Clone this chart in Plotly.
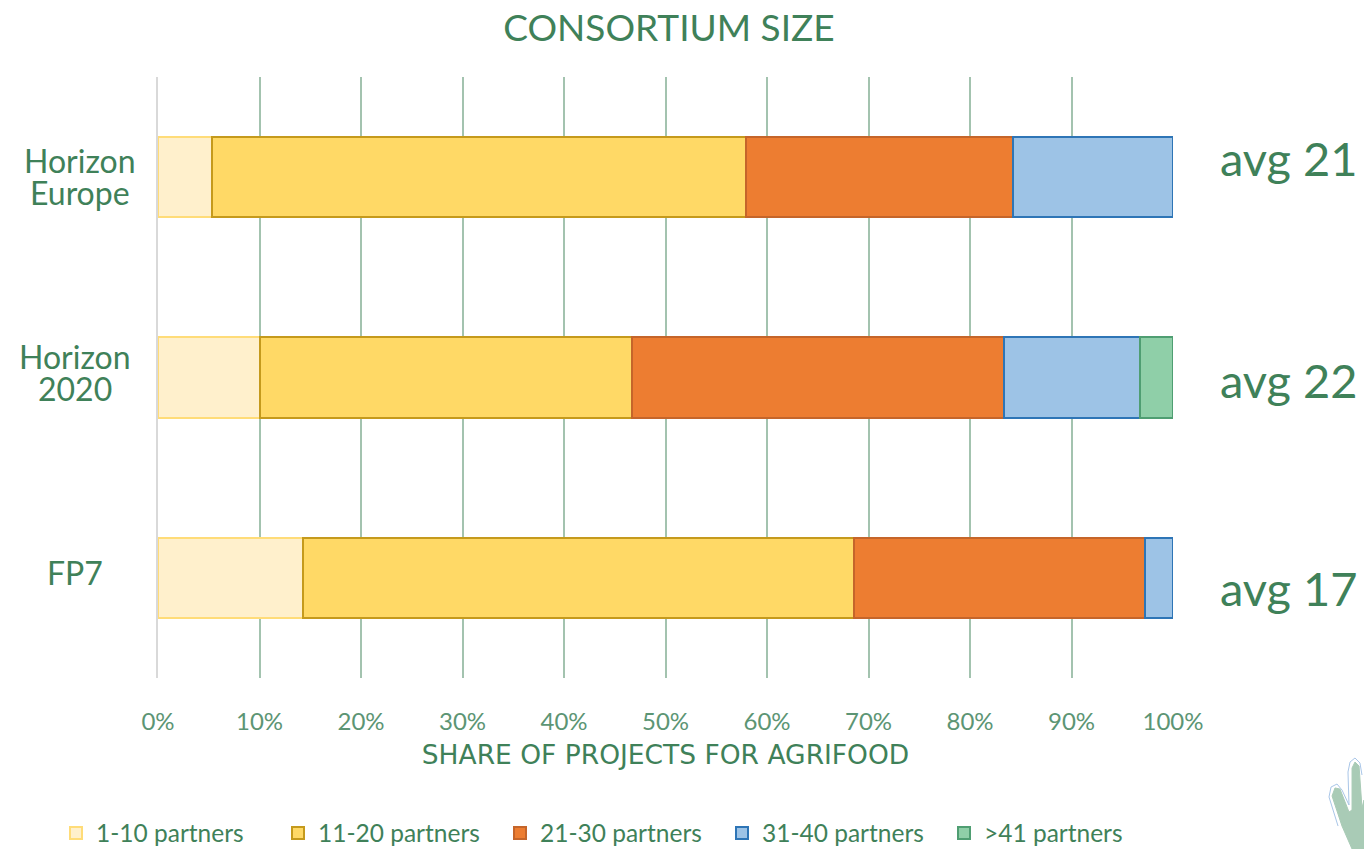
import plotly.graph_objects as go

programmes = ["Horizon Europe", "Horizon 2020", "FP7"]
programme_lines = [["Horizon", "Europe"], ["Horizon", "2020"], ["FP7"]]
avg_labels = ["avg 21", "avg 22", "avg 17"]
partners_1_10 = [5.3, 10.0, 14.3]
partners_11_20 = [52.6, 36.7, 54.3]
partners_21_30 = [26.3, 36.6, 28.6]
partners_31_40 = [15.8, 13.4, 2.8]
partners_41 = [None, 3.3, None]
x_ticks = [0, 10, 20, 30, 40, 50, 60, 70, 80, 90, 100]
x_tick_labels = ["0%", "10%", "20%", "30%", "40%", "50%", "60%", "70%", "80%", "90%", "100%"]

GREEN = "#3f8159"
FONT = "Lato"
W, H = 1364, 849
L, R, T, B = 158, 1173, 77, 678

series = [
    ("1-10 partners", partners_1_10, "#fff0cc", "#ffdc78"),
    ("11-20 partners", partners_11_20, "#ffd966", "#c59a1c"),
    ("21-30 partners", partners_21_30, "#ed7d31", "#c5652a"),
    ("31-40 partners", partners_31_40, "#9dc3e6", "#2e75b6"),
    (">41 partners", partners_41, "#8fcfa8", "#4f9e72"),
]

fig = go.Figure()
for name, vals, fill, line in series:
    fig.add_trace(go.Bar(
        name=name, y=programmes, x=vals, orientation="h", width=0.4,
        marker=dict(color=fill, line=dict(color=line, width=2)),
    ))

annotations = []
label_centers = [80, 75, 75]
label_shifts = [[17, -15], [21, -11], [5]]
avg_shifts = [19, -2, -10]
for prog, lines, cx, shifts, avg, ash in zip(programmes, programme_lines, label_centers,
                                            label_shifts, avg_labels, avg_shifts):
    for line, sh in zip(lines, shifts):
        annotations.append(dict(
            x=(cx - L) / (R - L), xref="paper", xanchor="center", y=prog, yref="y",
            yshift=sh, text=line, showarrow=False,
            font=dict(family=FONT, size=32, color=GREEN),
        ))
    annotations.append(dict(
        x=(1220 - L) / (R - L), xref="paper", xanchor="left", xshift=-2, y=prog, yref="y", yshift=ash,
        text=avg, showarrow=False, font=dict(family=FONT, size=47, color=GREEN),
    ))

# decorative hand in the bottom-right corner (figure pixels -> paper coordinates)
def path(pts, close=True):
    d = "M" + "L".join(f"{(x-L)/(R-L):.4f},{1-(y-T)/(B-T):.4f}" for x, y in pts)
    return d + "Z" if close else d

hand = [(1332, 796), (1335, 788), (1340, 789), (1349, 812), (1352, 810), (1352, 768), (1355, 762),
        (1359, 766), (1362, 808), (1364, 800), (1364, 849), (1352, 849), (1342, 826)]
outline = [(1338, 826), (1329, 797), (1331, 787), (1337, 784), (1342, 790), (1349, 805), (1348, 772),
           (1350, 762), (1355, 758), (1360, 763), (1362, 775)]
shapes = [
    dict(type="path", xref="paper", yref="paper", path=path(hand),
         fillcolor="#a9cbb6", line=dict(color="#a9cbb6", width=1), layer="above"),
    dict(type="path", xref="paper", yref="paper", path=path(outline, close=False),
         line=dict(color="#a9c6e8", width=1), layer="above"),
]

fig.update_layout(
    width=W, height=H, autosize=False, barmode="stack", bargap=0.6,
    paper_bgcolor="white", plot_bgcolor="white",
    margin=dict(l=L, r=W - R, t=T, b=H - B, autoexpand=False),
    title=dict(text="CONSORTIUM SIZE", x=669 / W, xanchor="center", y=1 - 28 / H, yanchor="middle",
               font=dict(family=FONT, size=37, color=GREEN)),
    xaxis=dict(range=[0, 100], tickmode="array", tickvals=x_ticks, ticktext=x_tick_labels,
               showgrid=True, gridcolor="#a3c3af", gridwidth=2, zeroline=False, automargin=False,
               showline=False, ticks="outside", ticklen=22, tickcolor="rgba(0,0,0,0)",
               tickfont=dict(family=FONT, size=24, color="#5c9574"),
               title=dict(text="SHARE OF PROJECTS FOR AGRIFOOD", standoff=11,
                          font=dict(family="DejaVu Sans", size=26.5, color=GREEN))),
    yaxis=dict(categoryorder="array", categoryarray=programmes[::-1], showticklabels=False,
               showgrid=False, zeroline=False, showline=True, linecolor="#d9d9d9", linewidth=2,
               automargin=False),
    legend=dict(orientation="h", xref="paper", x=(56 - L) / (R - L), xanchor="left",
                yref="paper", y=-(833 - B) / (B - T), yanchor="middle",
                traceorder="normal", entrywidth=177, entrywidthmode="pixels",
                font=dict(family=FONT, size=24.5, color=GREEN)),
    annotations=annotations, shapes=shapes, showlegend=True,
)
fig.write_html("out.html", config=dict(displayModeBar=False),
               post_script="document.body.style.margin='0';document.documentElement.style.overflow='hidden';")
